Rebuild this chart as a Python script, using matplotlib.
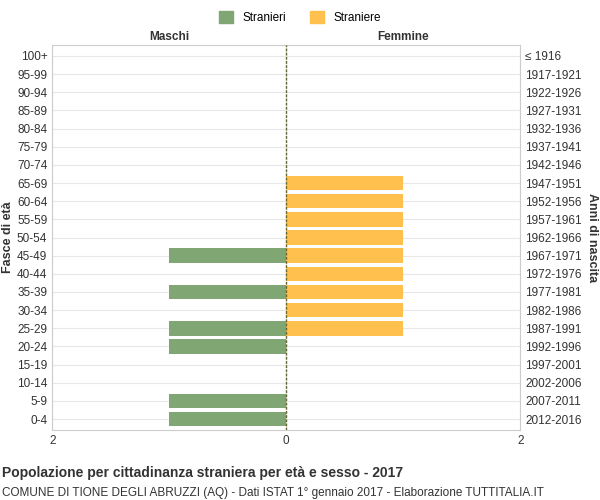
import matplotlib
matplotlib.use("Agg")
import matplotlib.pyplot as plt
plt.rcParams["font.family"] = "Liberation Sans"

ages = ["0-4","5-9","10-14","15-19","20-24","25-29","30-34","35-39","40-44","45-49","50-54","55-59","60-64","65-69","70-74","75-79","80-84","85-89","90-94","95-99","100+"]
years = ["2012-2016","2007-2011","2002-2006","1997-2001","1992-1996","1987-1991","1982-1986","1977-1981","1972-1976","1967-1971","1962-1966","1957-1961","1952-1956","1947-1951","1942-1946","1937-1941","1932-1936","1927-1931","1922-1926","1917-1921","≤ 1916"]
males =   [1,1,0,0,1,1,0,1,0,1,0,0,0,0,0,0,0,0,0,0,0]
females = [0,0,0,0,0,1,1,1,1,1,1,1,1,1,0,0,0,0,0,0,0]

fig = plt.figure(figsize=(6,5), dpi=100)
ax = fig.add_axes([0.087, 0.14, 0.78, 0.77])
y = range(len(ages))
ax.barh(y, [-m for m in males], height=0.8, color="#7fa673", zorder=3)
ax.barh(y, females, height=0.8, color="#ffc04d", zorder=3)
ax.axvline(0, color="#666633", lw=1, ls=(0,(2,1)), zorder=4)
ax.set_xlim(-2, 2)
ax.set_ylim(-0.6, 20.6)
ax.set_xticks([-2,0,2]); ax.set_xticklabels(["2","0","2"])
ax.set_yticks(list(y)); ax.set_yticklabels(ages)
ax.tick_params(labelsize=8.5, colors="#333333", length=0)
ax.grid(True, color="#e8e8e8", lw=0.8, zorder=0)
for s in ax.spines.values(): s.set_color("#cccccc")
ax2 = ax.twinx()
ax2.set_ylim(ax.get_ylim()); ax2.set_yticks(list(y)); ax2.set_yticklabels(years)
ax2.tick_params(labelsize=8.5, colors="#333333", length=0)
for s in ax2.spines.values(): s.set_visible(False)
fig.text(0.013, 0.525, "Fasce di età", fontsize=9, fontweight="bold", color="#333333", rotation=90, ha="center", va="center")
fig.text(0.987, 0.525, "Anni di nascita", fontsize=9, fontweight="bold", color="#333333", rotation=270, ha="center", va="center")
ax.text(-1, 20.9, "Maschi", ha="center", fontsize=8.5, fontweight="bold", color="#333333")
ax.text(1, 20.9, "Femmine", ha="center", fontsize=8.5, fontweight="bold", color="#333333")
from matplotlib.patches import Patch
fig.legend(handles=[Patch(color="#7fa673", label="Stranieri"), Patch(color="#ffc04d", label="Straniere")],
           loc="upper center", bbox_to_anchor=(0.5, 1.0), ncol=2, frameon=False, fontsize=8.5,
           handlelength=1.2, handleheight=1.2)
fig.text(0.003, 0.045, "Popolazione per cittadinanza straniera per età e sesso - 2017", fontsize=10, fontweight="bold", color="#333333")
fig.text(0.003, 0.008, "COMUNE DI TIONE DEGLI ABRUZZI (AQ) - Dati ISTAT 1° gennaio 2017 - Elaborazione TUTTITALIA.IT", fontsize=8.5, color="#333333")
fig.savefig("out.png")
